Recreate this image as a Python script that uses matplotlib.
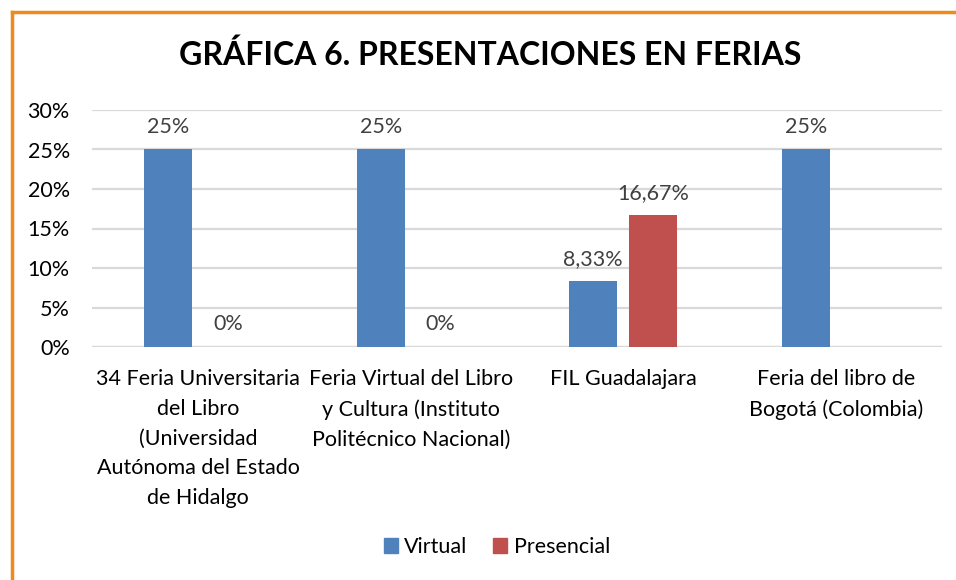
import numpy as np
from matplotlib import pyplot as plt
from matplotlib.lines import Line2D
from matplotlib.patches import Patch
from matplotlib.ticker import FuncFormatter

# Datos de la gráfica
categorias = [
    "34 Feria Universitaria\ndel Libro\n(Universidad\nAutónoma del Estado\nde Hidalgo",
    "Feria Virtual del Libro\ny Cultura (Instituto\nPolitécnico Nacional)",
    "FIL Guadalajara",
    "Feria del libro de\nBogotá (Colombia)",
]
virtual = [25, 25, 8.33, 25]
presencial = [0, 0, 16.67, None]
etiquetas_virtual = ["25%", "25%", "8,33%", "25%"]
etiquetas_presencial = ["0%", "0%", "16,67%", None]

azul = "#4F81BD"
rojo = "#C0504D"
naranja = "#EF8A1E"

plt.rcParams['font.family'] = ['Lato', 'DejaVu Sans']

fig = plt.figure(figsize=(9.56, 5.8), dpi=100)
ax = fig.add_axes([92 / 956, 1 - 347 / 580, 850 / 956, 237 / 580])

x = np.arange(len(categorias))
ancho = 0.226
desp = 0.141

v = np.array(virtual, dtype=float)
p = np.array([np.nan if val is None else val for val in presencial], dtype=float)

barras_v = ax.bar(x - desp, v, ancho, color=azul, zorder=3)
barras_p = ax.bar(x + desp, np.nan_to_num(p), ancho, color=rojo, zorder=3)

for i, b in enumerate(barras_v):
    ax.annotate(etiquetas_virtual[i], (b.get_x() + b.get_width() / 2, b.get_height()),
                xytext=(0, 9), textcoords="offset points", ha="center", va="bottom",
                fontsize=15.5, color="#404040")
for i, b in enumerate(barras_p):
    if etiquetas_presencial[i] is None:
        continue
    ax.annotate(etiquetas_presencial[i], (b.get_x() + b.get_width() / 2, b.get_height()),
                xytext=(0, 9), textcoords="offset points", ha="center", va="bottom",
                fontsize=15.5, color="#404040")

ax.set_xlim(-0.5, 3.5)
ax.set_ylim(0, 30)
ax.set_yticks(np.arange(0, 31, 5))
ax.yaxis.set_major_formatter(FuncFormatter(lambda val, pos: f"{val:.0f}%"))
ax.yaxis.grid(True, color="#D9D9D9", linewidth=1.6, zorder=0)
ax.set_xticks(x)
ax.set_xticklabels(categorias, fontsize=15.5, linespacing=1.6)
ax.tick_params(axis="both", length=0, labelsize=15.5, colors="#000000")
ax.tick_params(axis="y", pad=16)
ax.tick_params(axis="x", pad=16)
for s in ax.spines.values():
    s.set_visible(False)
ax.axhline(0, color="#D9D9D9", linewidth=1.6, zorder=1)

fig.text(490 / 956, 1 - 55 / 580, "GRÁFICA 6. PRESENTACIONES EN FERIAS",
         ha="center", va="center", fontsize=23, fontweight="bold")

handles = [Patch(color=azul, label="Virtual"), Patch(color=rojo, label="Presencial")]
fig.legend(handles=handles, loc="center", bbox_to_anchor=(497 / 956, 1 - 547 / 580),
           ncol=2, frameon=False, fontsize=15.5, handlelength=0.65, handleheight=0.65,
           handletextpad=0.3, columnspacing=1.2)

# Borde naranja (izquierda y arriba)
fig.add_artist(Line2D([11.5 / 956, 11.5 / 956], [0, 1 - 12 / 580], color=naranja,
                      linewidth=2.5, transform=fig.transFigure))
fig.add_artist(Line2D([11.5 / 956, 1], [1 - 12 / 580, 1 - 12 / 580], color=naranja,
                      linewidth=2.5, transform=fig.transFigure))

plt.savefig("out.png", dpi=100)
plt.close()
